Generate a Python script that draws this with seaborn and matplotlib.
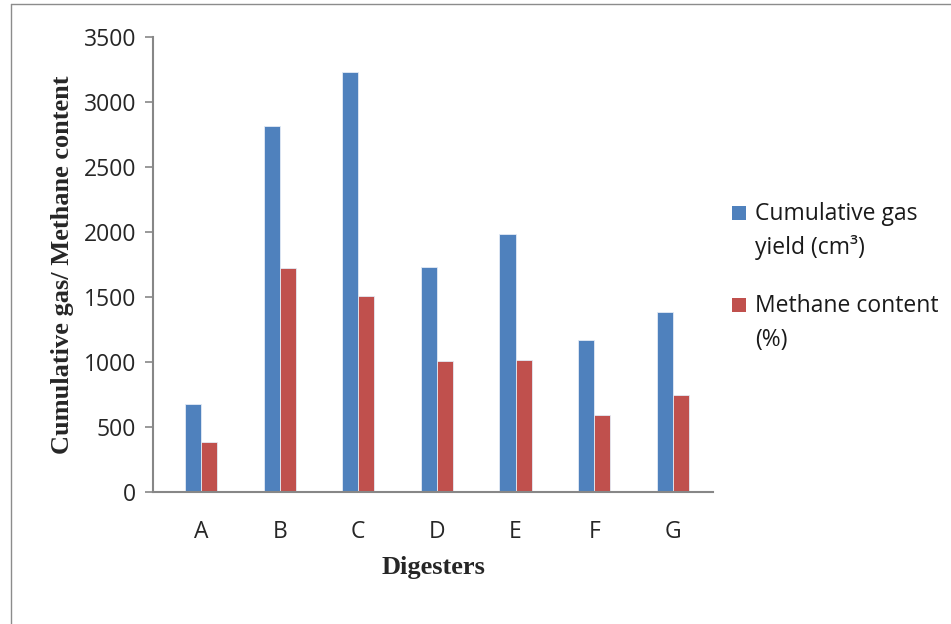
import matplotlib
matplotlib.use("Agg")
import matplotlib.pyplot as plt
import matplotlib.patches as mpatches
from matplotlib.lines import Line2D
import seaborn as sns
import pandas as pd

digesters = ["A", "B", "C", "D", "E", "F", "G"]
gas_yield = [680, 2818, 3228, 1733, 1987, 1172, 1382]
methane = [388, 1725, 1505, 1008, 1015, 590, 746]
series_names = ["Cumulative gas yield (cm\u00b3)", "Methane content (%)"]
legend_lines = [["Cumulative gas", "yield (cm\u00b3)"], ["Methane content", "(%)"]]
colors = ["#4F81BD", "#C0504D"]

df = pd.DataFrame({
    "Digester": digesters * 2,
    "Value": gas_yield + methane,
    "Series": [series_names[0]] * len(digesters) + [series_names[1]] * len(digesters),
})

sns.set_style("white")
plt.rcParams["font.family"] = ["Open Sans", "DejaVu Sans"]

W, H = 951, 624
fig = plt.figure(figsize=(W / 100, H / 100), dpi=100)
ax = fig.add_axes([153 / W, 1 - 492 / H, (713 - 153) / W, (492 - 37) / H])

sns.barplot(data=df, x="Digester", y="Value", hue="Series", palette=colors,
            saturation=1, width=0.41, dodge=True, ax=ax,
            edgecolor="#e3ebf5", linewidth=0.6, legend=False)

ax.set_ylim(0, 3500)
ax.set_yticks(range(0, 3501, 500))
ax.set_xlim(-0.61, 6.51)

spine_color = "#878787"
for s in ["top", "right"]:
    ax.spines[s].set_visible(False)
for s in ["left", "bottom"]:
    ax.spines[s].set_color(spine_color)
    ax.spines[s].set_linewidth(1.5)

ax.tick_params(axis="y", which="both", left=True, length=6, width=1.2,
               color=spine_color, direction="out", labelsize=16.5, pad=6)
ax.tick_params(axis="x", bottom=False, labelsize=16.5, pad=17)

ax.set_xlabel("Digesters", family="Liberation Serif", fontweight="bold",
              fontsize=19, labelpad=8.5)
ax.set_ylabel("Cumulative gas/ Methane content", family="Liberation Serif",
              fontweight="bold", fontsize=19, labelpad=7)

# legend: colour key squares with two-line labels
for i, (c, lines) in enumerate(zip(colors, legend_lines)):
    dy = i * 92
    fig.add_artist(mpatches.Rectangle((732 / W, 1 - (220 + dy) / H), 14 / W, 14 / H,
                                      transform=fig.transFigure, facecolor=c,
                                      edgecolor="none"))
    for j, line in enumerate(lines):
        fig.text(755 / W, 1 - (220 + dy + 34 * j) / H, line, fontsize=16.5,
                 ha="left", va="baseline", color="#1a1a1a")

# outer frame lines (left and top)
fig.add_artist(Line2D([10.5 / W, 10.5 / W], [0.0, 1 - 4 / H], transform=fig.transFigure,
                      color="#8c8c8c", linewidth=1.0))
fig.add_artist(Line2D([10.5 / W, 1.0], [1 - 4 / H, 1 - 4 / H], transform=fig.transFigure,
                      color="#8c8c8c", linewidth=1.0))

fig.savefig("out.png", dpi=100, facecolor="white")
